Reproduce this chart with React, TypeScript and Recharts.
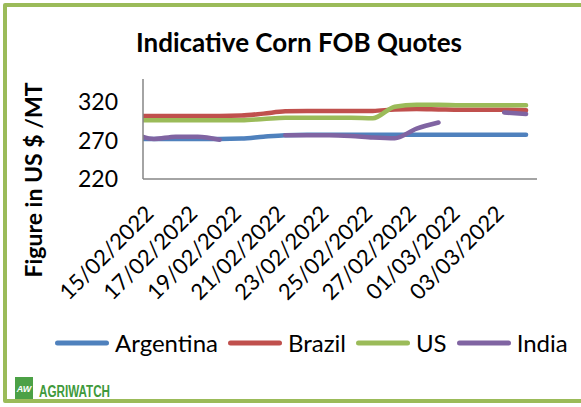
import React from "react";
import { LineChart, Line, XAxis, YAxis, Legend } from "recharts";

const dates = [
  "14/02/2022", "15/02/2022", "16/02/2022", "17/02/2022", "18/02/2022",
  "19/02/2022", "20/02/2022", "21/02/2022", "22/02/2022", "23/02/2022",
  "24/02/2022", "25/02/2022", "26/02/2022", "27/02/2022", "28/02/2022",
  "01/03/2022", "02/03/2022", "03/03/2022", "04/03/2022",
];
const argentina = [272, 272, 272, 272, 272, 272.5, 275, 277, 277.5, 277.5, 277.5, 277.5, 277.5, 277.5, 277.5, 277.5, 277.5, 277.5, 277.5];
const brazil = [302, 302, 302, 302, 302, 302.5, 305, 308, 308.5, 308.5, 308.5, 308.5, 310.5, 311, 310.5, 310, 310, 310, 309.5];
const us = [296.5, 296.5, 296.5, 296.5, 296.5, 296.5, 298, 299.5, 299.5, 299.5, 299.5, 299, 314, 316.5, 316.5, 316, 316, 316, 316];
const india: (number | null)[] = [280, 272, 275, 275, 271, null, null, 277, 277, 277, 276, 274, 273, 285.5, 293.5, null, null, 306.5, 304.5];

const yTicks = [220, 270, 320];
const xTickIndexes = [1, 3, 5, 7, 9, 11, 13, 15, 17];

const series = [
  { key: "argentina", name: "Argentina", color: "#4F81BD" },
  { key: "brazil", name: "Brazil", color: "#C0504D" },
  { key: "us", name: "US", color: "#9BBB59" },
  { key: "india", name: "India", color: "#8064A2" },
];

const rows = dates.map((d, i) => ({
  k: i,
  date: d,
  argentina: argentina[i],
  brazil: brazil[i],
  us: us[i],
  india: india[i],
}));

const FONT = "Lato, 'Open Sans', sans-serif";

const XTick = (props: any) => {
  const { x, y, payload } = props;
  const label = dates[payload.value] ?? "";
  const ax = x + 1;
  const ay = y + 36;
  return (
    <text
      x={ax}
      y={ay}
      textAnchor="end"
      fontFamily={FONT}
      fontSize={22}
      fill="#000"
      transform={`rotate(-45, ${ax}, ${ay})`}
    >
      {label}
    </text>
  );
};

const LegendContent = () => (
  <div
    style={{
      display: "flex",
      alignItems: "center",
      paddingLeft: 55,
      fontFamily: FONT,
      fontSize: 24,
      height: 30,
      color: "#000",
    }}
  >
    {series.map((s) => (
      <div key={s.key} style={{ display: "flex", alignItems: "center" }}>
        <svg width={54} height={8} style={{ display: "block" }}>
          <line x1={2.5} x2={51.5} y1={4} y2={4} stroke={s.color} strokeWidth={5} strokeLinecap="round" />
        </svg>
        <span style={{ marginLeft: 6, marginRight: 10, lineHeight: "30px" }}>{s.name}</span>
      </div>
    ))}
  </div>
);

export default function App() {
  return (
    <div
      style={{
        position: "fixed",
        left: 0,
        top: 0,
        width: 581,
        height: 407,
        overflow: "hidden",
        background: "#fff",
      }}
    >
      <div
        style={{
          position: "absolute",
          left: 3,
          top: 3,
          width: 640,
          height: 400,
          boxSizing: "border-box",
          border: "4px solid #9BBB59",
          borderRadius: 2,
        }}
      />
      <div style={{ position: "absolute", left: 0, top: 0 }}>
        <LineChart
          width={581}
          height={407}
          data={rows}
          margin={{ top: 79, right: 44, left: 83, bottom: 168 }}
        >
          <XAxis
            dataKey="k"
            type="number"
            domain={[0.5, 18.5]}
            allowDataOverflow
            ticks={xTickIndexes}
            interval={0}
            height={60}
            tickLine={false}
            tickSize={0}
            tickMargin={0}
            axisLine={{ stroke: "#868686", strokeWidth: 1.5 }}
            tick={<XTick />}
          />
          <YAxis
            domain={[220, 350]}
            ticks={yTicks}
            allowDataOverflow
            width={60}
            tickLine={false}
            tickSize={0}
            tickMargin={25}
            axisLine={{ stroke: "#868686", strokeWidth: 1.5 }}
            tick={{ fontFamily: FONT, fontSize: 23, fill: "#000" }}
          />
          <Legend
            layout="horizontal"
            verticalAlign="middle"
            align="center"
            wrapperStyle={{ top: 328, left: 0, width: 581 }}
            content={<LegendContent />}
          />
          {series.map((s) => (
            <Line
              key={s.key}
              type="monotone"
              dataKey={s.key}
              name={s.name}
              stroke={s.color}
              strokeWidth={4.5}
              strokeLinecap="round"
              strokeLinejoin="round"
              dot={false}
              activeDot={false}
              connectNulls={false}
              isAnimationActive={false}
            />
          ))}
        </LineChart>
      </div>
      <svg
        width={581}
        height={407}
        style={{ position: "absolute", left: 0, top: 0, pointerEvents: "none" }}
      >
        <text x={299} y={52} textAnchor="middle" fontFamily={FONT} fontWeight="bold" fontSize={26} fill="#000">
          Indicative Corn FOB Quotes
        </text>
        <text
          x={42}
          y={180}
          textAnchor="middle"
          fontFamily={FONT}
          fontWeight="bold"
          fontSize={23}
          fill="#000"
          transform="rotate(-90, 42, 180)"
        >
          Figure in US $ /MT
        </text>
        <rect x={15} y={377} width={18} height={22} fill="#4CA146" />
        <text x={24} y={392} textAnchor="middle" fontFamily="'Liberation Sans', Arial, sans-serif" fontWeight="bold" fontStyle="italic" fontSize={9} fill="#fff">
          AW
        </text>
        <text
          x={39}
          y={397}
          fontFamily="'Liberation Sans', Arial, sans-serif"
          fontWeight="bold"
          fontSize={16}
          fill="#3F9A3C"
          textLength={71}
          lengthAdjust="spacingAndGlyphs"
        >
          AGRIWATCH
        </text>
      </svg>
    </div>
  );
}
